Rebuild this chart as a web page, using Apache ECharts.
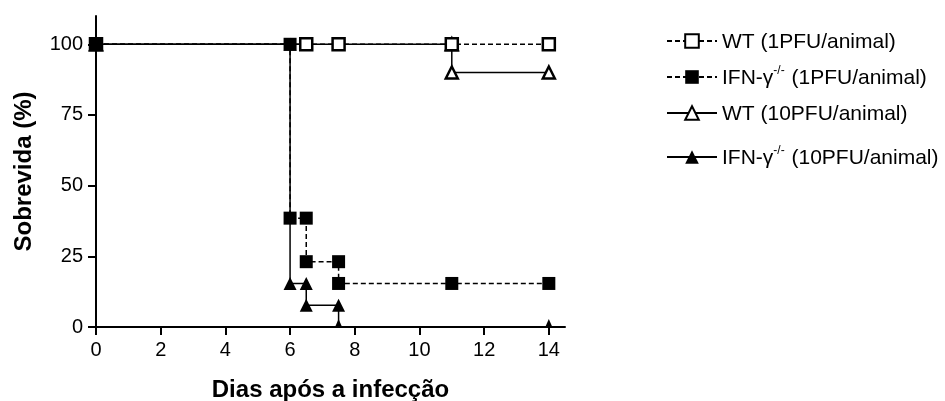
<!DOCTYPE html>
<html>
<head>
<meta charset="utf-8">
<script src="https://cdn.jsdelivr.net/npm/echarts@6/dist/echarts.min.js"></script>
<style>
html,body{margin:0;padding:0;background:#fff;}
#chart{width:945px;height:401px;}
</style>
</head>
<body>
<div id="chart"></div>
<script>
// ---- data (Kaplan-Meier step points) ----
const xTicks = [0, 2, 4, 6, 8, 10, 12, 14];
const yTicks = [0, 25, 50, 75, 100];

const seriesNames = [
  'WT (1PFU/animal)',
  'IFN-γ-/- (1PFU/animal)',
  'WT (10PFU/animal)',
  'IFN-γ-/- (10PFU/animal)'
];

const wt1Days  = [0, 6.5, 7.5, 11, 14];
const wt1Surv  = [100, 100, 100, 100, 100];

const ifn1Days = [0, 6, 6, 6.5, 6.5, 7.5, 7.5, 11, 14];
const ifn1Surv = [100, 100, 38.5, 38.5, 23.1, 23.1, 15.4, 15.4, 15.4];

const wt10Days = [0, 11, 11, 14];
const wt10Surv = [100, 100, 90, 90];

const ifn10Days = [0, 6, 6, 6.5, 6.5, 7.5, 7.5, 14];
const ifn10Surv = [100, 100, 15.4, 15.4, 7.7, 7.7, 0, 0];

// ---- chart ----
const FONT = '"Liberation Sans", Arial, Helvetica, sans-serif';
const zip = (xs, ys) => xs.map((x, i) => [x, ys[i]]);

const openStyle = {color: '#fff', borderColor: '#000', borderWidth: 2.5};
const fillStyle = {color: '#000', borderColor: '#000', borderWidth: 0};

function ifn10Data() {
  return zip(ifn10Days, ifn10Surv).map(p => {
    if (p[1] === 0) {
      return {value: p, symbolSize: [7, 8], symbolOffset: [0, -4]};
    }
    return {value: p};
  });
}

const chart = echarts.init(document.getElementById('chart'), null, {renderer: 'canvas'});

const legendRich = {
  t: {fontSize: 21, fontFamily: FONT, color: '#000', verticalAlign: 'bottom', lineHeight: 24},
  s: {fontSize: 12, fontFamily: FONT, color: '#000', verticalAlign: 'top', lineHeight: 24, padding: [0, 1, 0, 0]}
};
function legendFmt(name) {
  if (name.indexOf('IFN-γ-/-') === 0) {
    return '{t|IFN-γ}{s|-/-}{t|' + name.slice(8) + '}';
  }
  return '{t|' + name + '}';
}
const legendRows = [44, 77, 116, 157];
const legends = seriesNames.map((n, i) => ({
  data: [n],
  left: 666,
  top: legendRows[i] - 12,
  orient: 'vertical',
  itemWidth: 50,
  itemHeight: 17,
  itemGap: 0,
  padding: 0,
  selectedMode: false,
  formatter: legendFmt,
  textStyle: {rich: legendRich, fontSize: 21, fontFamily: FONT, color: '#000'}
}));

const option = {
  animation: false,
  backgroundColor: '#fff',
  legend: legends,
  grid: {left: 96, right: 380, top: 16, bottom: 74, containLabel: false, outerBoundsMode: 'none'},
  xAxis: {
    type: 'value',
    min: 0,
    max: 14.5,
    name: 'Dias após a infecção',
    nameLocation: 'middle',
    nameGap: 51,
    nameTextStyle: {fontSize: 24, fontWeight: 'bold', fontFamily: FONT, color: '#000'},
    axisLine: {show: true, onZero: false, lineStyle: {color: '#000', width: 2}},
    axisTick: {show: true, length: 8, inside: false, lineStyle: {color: '#000', width: 2}, customValues: xTicks},
    axisLabel: {show: true, margin: 13, fontSize: 20, fontFamily: FONT, color: '#000', customValues: xTicks},
    splitLine: {show: false}
  },
  yAxis: {
    type: 'value',
    min: 0,
    max: 110,
    name: 'Sobrevida (%)',
    nameLocation: 'middle',
    nameGap: 60,
    nameTextStyle: {fontSize: 24, fontWeight: 'bold', fontFamily: FONT, color: '#000'},
    axisLine: {show: true, onZero: false, lineStyle: {color: '#000', width: 2}},
    axisTick: {show: true, length: 8, inside: false, lineStyle: {color: '#000', width: 2}, customValues: yTicks},
    axisLabel: {show: true, margin: 13, fontSize: 20, fontFamily: FONT, color: '#000', customValues: yTicks},
    splitLine: {show: false}
  },
  series: [
    {
      name: seriesNames[2],
      type: 'line',
      data: zip(wt10Days, wt10Surv),
      symbol: 'triangle',
      symbolSize: 12,
      showAllSymbol: true,
      itemStyle: openStyle,
      lineStyle: {color: '#000', width: 1.5, type: 'solid'},
      emphasis: {disabled: true},
      z: 2
    },
    {
      name: seriesNames[3],
      type: 'line',
      data: ifn10Data(),
      symbol: 'triangle',
      symbolSize: 13,
      showAllSymbol: true,
      itemStyle: fillStyle,
      lineStyle: {color: '#000', width: 1.5, type: 'solid'},
      emphasis: {disabled: true},
      z: 3
    },
    {
      name: seriesNames[0],
      type: 'line',
      data: zip(wt1Days, wt1Surv),
      symbol: 'rect',
      symbolSize: 12,
      showAllSymbol: true,
      itemStyle: openStyle,
      lineStyle: {color: '#000', width: 1.5, type: [5, 3]},
      emphasis: {disabled: true},
      z: 4
    },
    {
      name: seriesNames[1],
      type: 'line',
      data: zip(ifn1Days, ifn1Surv),
      symbol: 'rect',
      symbolSize: 13,
      showAllSymbol: true,
      itemStyle: fillStyle,
      lineStyle: {color: '#000', width: 1.5, type: [5, 3]},
      emphasis: {disabled: true},
      z: 5
    }
  ]
};
chart.setOption(option);
</script>
</body>
</html>
